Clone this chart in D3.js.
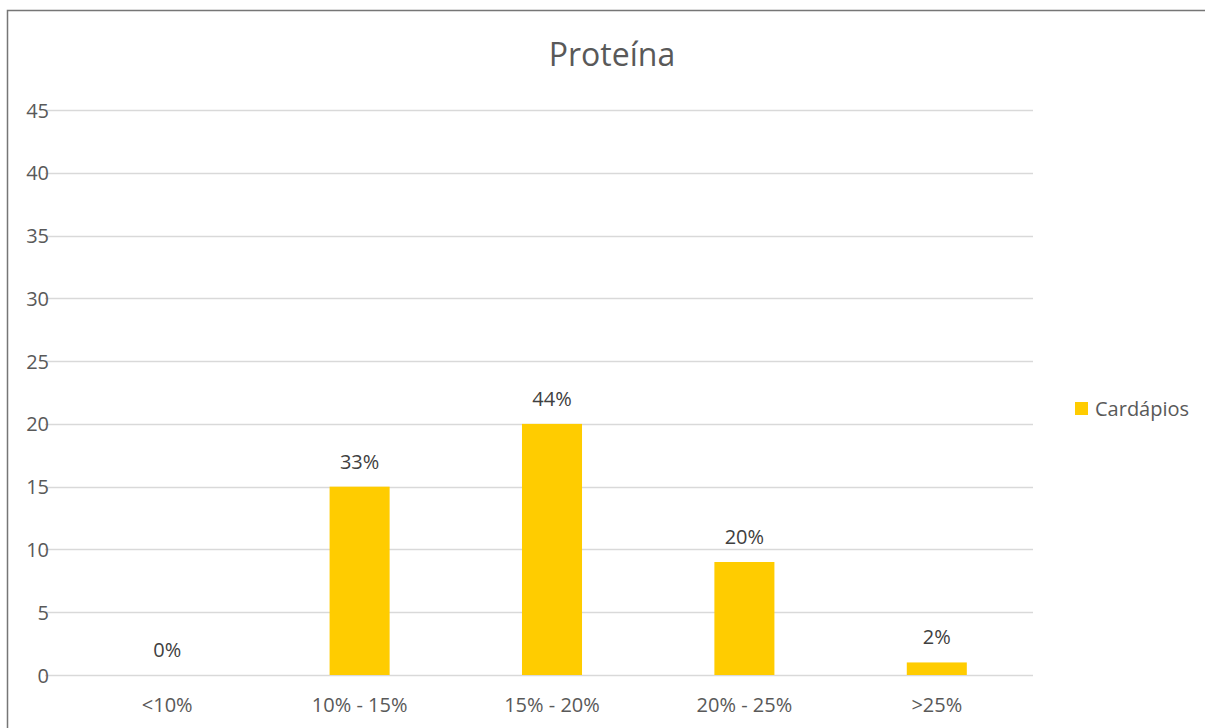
<!DOCTYPE html>
<html>
<head>
<meta charset="utf-8">
<script src="https://cdn.jsdelivr.net/npm/d3@7"></script>
<style>
  html, body { margin: 0; padding: 0; background: #fff; }
  svg { display: block; }
  text { font-family: "Open Sans", sans-serif; }
</style>
</head>
<body>
<svg id="chart" width="1205" height="728"></svg>
<script>
// Distribution of menus by share of energy from protein
const categories = ["<10%", "10% - 15%", "15% - 20%", "20% - 25%", ">25%"];
const counts = [0, 15, 20, 9, 1];
const labels = ["0%", "33%", "44%", "20%", "2%"];
const yTicks = [0, 5, 10, 15, 20, 25, 30, 35, 40, 45];
const seriesName = "Cardápios";
const chartTitle = "Proteína";

const svg = d3.select("#chart");
const W = 1205, H = 728;
const plot = { left: 71, right: 1033, top: 110, bottom: 675 };
const FONT = "'Open Sans', sans-serif";

// outer chart frame
svg.append("path")
  .attr("d", `M7.5,${H + 2} V10.5 H${W + 2}`)
  .attr("fill", "none")
  .attr("stroke", "#767676")
  .attr("stroke-width", 1.5);

const x = d3.scaleBand()
  .domain(categories)
  .range([plot.left, plot.right])
  .paddingInner(0.688)
  .paddingOuter(0.344);

const y = d3.scaleLinear()
  .domain([0, 45])
  .range([plot.bottom, plot.top]);

// horizontal gridlines
svg.append("g")
  .selectAll("line")
  .data(yTicks)
  .join("line")
  .attr("x1", plot.left - 26)
  .attr("x2", plot.right)
  .attr("y1", d => Math.round(y(d)) + 0.5)
  .attr("y2", d => Math.round(y(d)) + 0.5)
  .attr("stroke", "#d9d9d9")
  .attr("stroke-width", 1.5);

// y axis labels
const yAxis = d3.axisLeft(y).tickValues(yTicks).tickSize(0).tickPadding(0);
const gy = svg.append("g")
  .attr("transform", `translate(${plot.left - 22},0)`)
  .call(yAxis);
gy.select(".domain").remove();
gy.selectAll("text")
  .attr("font-size", 20)
  .attr("fill", "#595959")
  .attr("dy", "0.35em")
  .style("font-family", FONT);

// x axis labels
const xAxis = d3.axisBottom(x).tickSize(0).tickPadding(0);
const gx = svg.append("g")
  .attr("transform", `translate(0,${plot.bottom + 23})`)
  .call(xAxis);
gx.select(".domain").remove();
gx.selectAll("text")
  .attr("font-size", 20)
  .attr("fill", "#595959")
  .attr("dy", "0.71em")
  .style("font-family", FONT);

// bars
svg.append("g")
  .selectAll("rect")
  .data(counts)
  .join("rect")
  .attr("x", (d, i) => x(categories[i]))
  .attr("width", x.bandwidth())
  .attr("y", d => y(d))
  .attr("height", d => y(0) - y(d))
  .attr("fill", "#ffcc00");

// value labels
svg.append("g")
  .selectAll("text")
  .data(counts)
  .join("text")
  .attr("x", (d, i) => x(categories[i]) + x.bandwidth() / 2)
  .attr("y", d => y(d) - 18)
  .attr("text-anchor", "middle")
  .attr("font-size", 20)
  .attr("fill", "#404040")
  .text((d, i) => labels[i]);

// title
svg.append("text")
  .attr("x", 612)
  .attr("y", 66)
  .attr("text-anchor", "middle")
  .attr("font-size", 32)
  .attr("fill", "#595959")
  .text(chartTitle);

// legend
const lg = svg.append("g").attr("transform", "translate(1075,402)");
lg.append("rect").attr("width", 13).attr("height", 13).attr("fill", "#ffcc00");
lg.append("text")
  .attr("x", 20)
  .attr("y", 14)
  .attr("font-size", 20)
  .attr("fill", "#595959")
  .text(seriesName);
</script>
</body>
</html>
